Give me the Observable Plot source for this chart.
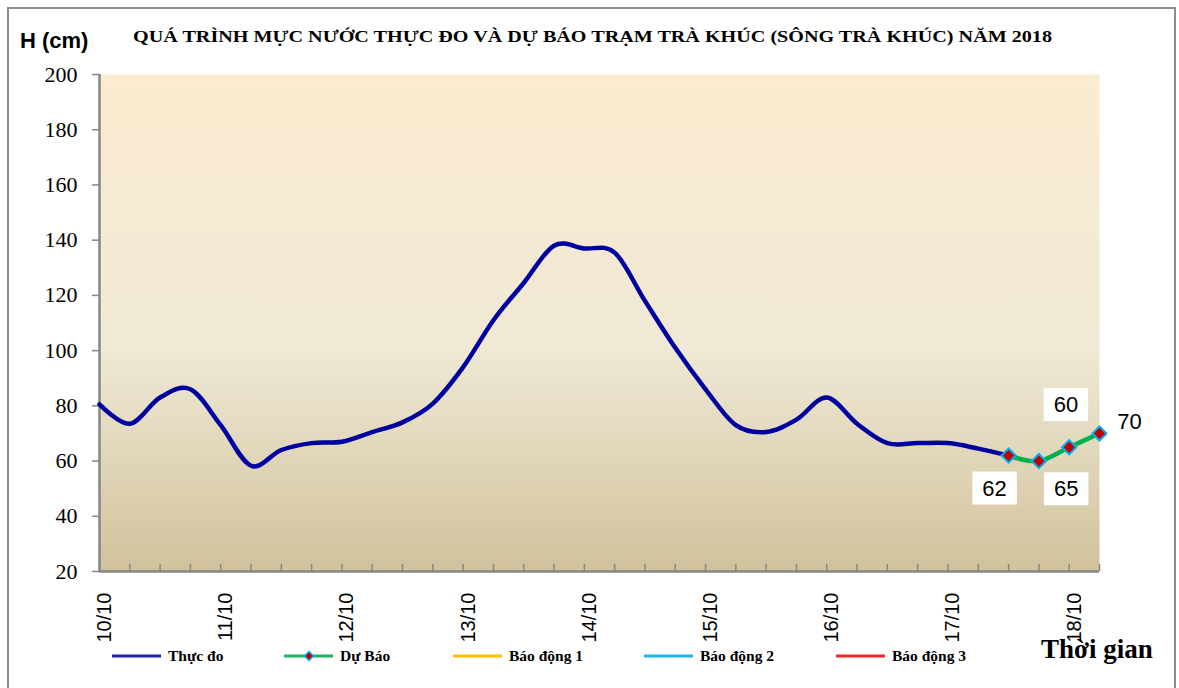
<!DOCTYPE html>
<html><head><meta charset="utf-8">
<script src="https://cdn.jsdelivr.net/npm/d3@7"></script>
<script src="https://cdn.jsdelivr.net/npm/@observablehq/plot@0.6"></script>
<style>body{margin:0;background:#fff;} svg{display:block}</style>
</head><body><div id="chart"></div>
<script>
// ---- data ----
const xLabels = ["10/10","11/10","12/10","13/10","14/10","15/10","16/10","17/10","18/10"];
const observed = [80.5, 73.5, 83, 86, 73, 58.3, 64, 66.5, 67, 70.5, 74, 80.8, 94, 111, 124.5, 138, 137, 135.5, 118, 101, 86, 73, 70.5, 75, 83, 73.5, 66.5, 66.5, 66.5, 64.5, 62];
const forecast = [62, 60, 65, 70];
const forecastStart = 30;
const yTicks = [20, 40, 60, 80, 100, 120, 140, 160, 180, 200];
const legendNames = ["Thực đo", "Dự Báo", "Báo động 1", "Báo động 2", "Báo động 3"];
const legendColors = ["#2323A8", "#1FB25E", "#FFC000", "#1EB4EC", "#F02828"];
const titleText = "QUÁ TRÌNH MỰC NƯỚC THỰC ĐO VÀ DỰ BÁO TRẠM TRÀ KHÚC (SÔNG TRÀ KHÚC) NĂM 2018";
const yTitle = "H (cm)";
const xTitle = "Thời gian";

const obsRows = observed.map((v, i) => ({i, v}));
const fcRows = forecast.map((v, k) => ({i: forecastStart + k, v}));
const nSteps = (xLabels.length - 1) * 4 + 1;

const labelOffsets = [[-14, 33], [27, -56], [-3, 42], [30, -11]];

const W = 1179, H = 688;
const plot = Plot.plot({
  width: W, height: H,
  marginLeft: 99, marginRight: 80, marginTop: 74, marginBottom: 117,
  x: {type: "linear", domain: [0, nSteps]},
  y: {domain: [20, 200]},
  style: {background: "transparent", overflow: "visible"},
  marks: [
    Plot.frame({fill: "url(#plotBg)", stroke: null}),
    Plot.axisY({ticks: yTicks, tickSize: 7, tickFormat: () => "", stroke: "#868686", strokeWidth: 1.5, label: null}),
    Plot.text(yTicks, {y: d => d, text: d => String(d), frameAnchor: "left", dx: -22, textAnchor: "end",
      fontFamily: "Liberation Serif", fontSize: 22, fill: "#000"}),
    Plot.axisX({ticks: d3.range(0, nSteps + 1), tickSize: -7, tickFormat: () => "", stroke: "#868686", strokeWidth: 1.5, label: null}),
    Plot.axisX({ticks: d3.range(0, nSteps, 4), tickFormat: i => xLabels[i / 4], tickRotate: -90, tickSize: 0, tickPadding: 21,
      fontFamily: "Liberation Sans", fontSize: 20, label: null, fill: "#000", dx: 5}),
    Plot.ruleY([20], {stroke: "#868686", strokeWidth: 2.5}),
    Plot.ruleX([0], {stroke: "#868686", strokeWidth: 2.5}),
    Plot.line(obsRows, {x: "i", y: "v", stroke: "#0000A0", strokeWidth: 4.5, curve: "cardinal"}),
    Plot.line(fcRows, {x: "i", y: "v", stroke: "#00B050", strokeWidth: 4.5, curve: "cardinal"}),
    Plot.dot(fcRows, {x: "i", y: "v", symbol: "diamond2", r: 6.4, fill: "#C00000", stroke: "#00B0F0", strokeWidth: 2}),
    ...fcRows.map((row, k) => Plot.text([row], {x: "i", y: "v", text: d => String(d.v),
      dx: labelOffsets[k][0], dy: labelOffsets[k][1], fontFamily: "Liberation Sans", fontSize: 22, fill: "#000"}))
  ]
});

document.getElementById("chart").appendChild(plot);
const svg = d3.select(plot);

// gradient background
const defs = svg.insert("defs", ":first-child");
const grad = defs.append("linearGradient").attr("id", "plotBg").attr("x1", 0).attr("y1", 0).attr("x2", 0).attr("y2", 1);
grad.append("stop").attr("offset", "0%").attr("stop-color", "#FCEBD0");
grad.append("stop").attr("offset", "55%").attr("stop-color", "#EFE9D5");
grad.append("stop").attr("offset", "100%").attr("stop-color", "#D1C29C");

// white boxes behind value labels (single-text marks)
svg.selectAll('g[aria-label="text"]').filter(function() { return this.querySelectorAll("text").length === 1; })
  .selectAll("text").each(function() {
  const bb = this.getBBox();
  const t = d3.select(this);
  const r = d3.select(this.parentNode).insert("rect", () => this)
    .attr("x", bb.x - 10).attr("y", bb.y - 4)
    .attr("width", bb.width + 20).attr("height", bb.height + 8)
    .attr("fill", "#fff");
  if (t.attr("transform")) r.attr("transform", t.attr("transform"));
});

// outer border
svg.append("rect").attr("x", 8).attr("y", 8).attr("width", 1167).attr("height", 700)
  .attr("fill", "none").attr("stroke", "#8C8C8C").attr("stroke-width", 2);

// titles
svg.append("text").attr("x", 133).attr("y", 42).text(titleText).attr("text-anchor", "start")
  .attr("font-family", "Liberation Serif").attr("font-weight", "bold").attr("font-size", 16.5)
  .attr("textLength", 919).attr("lengthAdjust", "spacingAndGlyphs").attr("fill", "#000");
svg.append("text").attr("x", 20).attr("y", 48).text(yTitle).attr("text-anchor", "start")
  .attr("font-family", "Liberation Sans").attr("font-weight", "bold").attr("font-size", 22).attr("fill", "#000");
svg.append("text").attr("x", 1041).attr("y", 658).text(xTitle).attr("text-anchor", "start")
  .attr("font-family", "Liberation Serif").attr("font-weight", "bold").attr("font-size", 27).attr("fill", "#000");

// legend
const legX = [112, 284, 453, 644, 836];
const legY = 656;
legendNames.forEach((name, k) => {
  const g = svg.append("g");
  g.append("line").attr("x1", legX[k]).attr("x2", legX[k] + 49).attr("y1", legY).attr("y2", legY)
    .attr("stroke", legendColors[k]).attr("stroke-width", 3);
  if (k === 1) {
    const cx = legX[k] + 25;
    g.append("path").attr("d", `M${cx},${legY-4.5}L${cx+4.5},${legY}L${cx},${legY+4.5}L${cx-4.5},${legY}Z`)
      .attr("fill", "#C00000").attr("stroke", "#00B0F0").attr("stroke-width", 1.5);
  }
  g.append("text").attr("x", legX[k] + 56).attr("y", legY + 5).text(name).attr("text-anchor", "start")
    .attr("font-family", "Liberation Serif").attr("font-weight", "bold").attr("font-size", 15.5).attr("fill", "#000");
});
</script>
</body></html>
